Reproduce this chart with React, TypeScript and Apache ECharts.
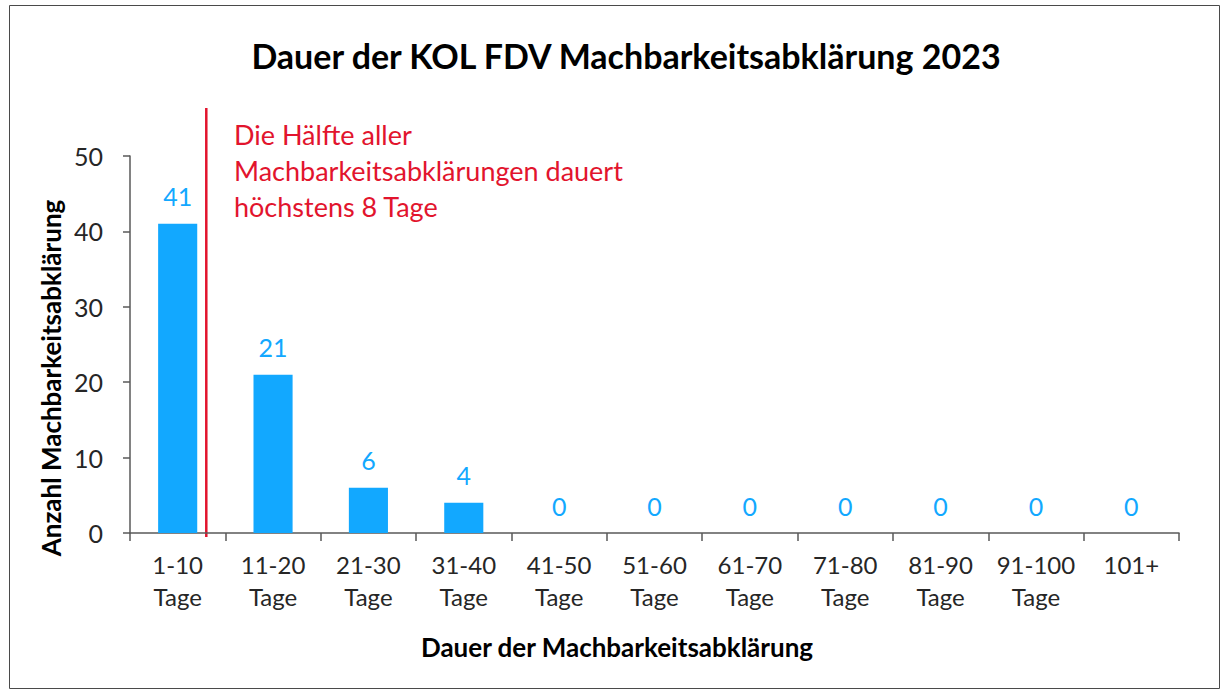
import React, { useEffect, useRef } from "react";
import * as echarts from "echarts";

const categories = [
  "1-10\nTage", "11-20\nTage", "21-30\nTage", "31-40\nTage", "41-50\nTage",
  "51-60\nTage", "61-70\nTage", "71-80\nTage", "81-90\nTage", "91-100\nTage", "101+",
];
const counts = [41, 21, 6, 4, 0, 0, 0, 0, 0, 0, 0];
const titleText = "Dauer der KOL FDV Machbarkeitsabklärung 2023";
const xAxisName = "Dauer der Machbarkeitsabklärung";
const yAxisName = "Anzahl Machbarkeitsabklärung";
const annotationLines = ["Die Hälfte aller", "Machbarkeitsabklärungen dauert", "höchstens 8 Tage"];
const medianDays = 8; // within the 1-10 bin

const FONT = "Lato, 'Open Sans', sans-serif";
const BLUE = "#12A8FF";
const RED = "#E2142D";
const TXT = "#262626";
const AXIS = "#595959";

export default function App() {
  const ref = useRef<HTMLDivElement>(null);
  useEffect(() => {
    if (!ref.current) return;
    const chart = echarts.init(ref.current, null, { renderer: "svg" });
    chart.setOption({
      animation: false,
      backgroundColor: "#ffffff",
      textStyle: { fontFamily: FONT },
      title: {
        text: titleText,
        left: 621,
        top: 33,
        textAlign: "center",
        textStyle: { fontFamily: FONT, fontSize: 34, fontWeight: "bold", color: "#000" },
      },
      grid: { left: 130, right: 42, top: 156, bottom: 157, containLabel: false },
      xAxis: {
        type: "category",
        data: categories,
        boundaryGap: true,
        axisLine: { show: true, lineStyle: { color: AXIS, width: 1.5 } },
        axisTick: { show: true, length: 8, alignWithLabel: false, lineStyle: { color: AXIS, width: 1.5 } },
        axisLabel: { color: TXT, fontSize: 24, lineHeight: 32, margin: 15, interval: 0, fontFamily: FONT },
        splitLine: { show: false },
      },
      yAxis: {
        type: "value",
        min: 0,
        max: 50,
        interval: 10,
        axisLine: { show: true, lineStyle: { color: AXIS, width: 1.5 } },
        axisTick: { show: true, length: 7, lineStyle: { color: AXIS, width: 1.5 } },
        axisLabel: { color: TXT, fontSize: 25, margin: 27, fontFamily: FONT },
        splitLine: { show: false },
      },
      series: [
        {
          type: "bar",
          data: counts,
          barWidth: "41%",
          itemStyle: { color: BLUE },
          label: {
            show: true,
            position: "top",
            distance: 15,
            color: BLUE,
            fontSize: 25,
            fontFamily: FONT,
          },
        },
      ],
    });

    const p0 = chart.convertToPixel({ xAxisIndex: 0 }, 0) as number;
    const p1 = chart.convertToPixel({ xAxisIndex: 0 }, 1) as number;
    const band = p1 - p0;
    const lineX = p0 - band / 2 + band * (medianDays / 10);
    const yZero = chart.convertToPixel({ yAxisIndex: 0 }, 0) as number;

    chart.setOption({
      graphic: [
        {
          type: "rect",
          shape: { x: 9.5, y: 5.5, width: 1210, height: 683 },
          style: { fill: "none", stroke: "#4a4a4a", lineWidth: 1 },
          silent: true,
        },
        {
          type: "line",
          shape: { x1: lineX, y1: 108, x2: lineX, y2: yZero + 4 },
          style: { stroke: RED, lineWidth: 2.5 },
        },
        {
          type: "text",
          x: 234,
          y: 116,
          style: {
            text: annotationLines.join("\n"),
            fill: RED,
            fontSize: 27,
            lineHeight: 36,
            fontFamily: FONT,
            verticalAlign: "top",
          },
        },
        {
          type: "text",
          x: 51,
          y: 378,
          rotation: Math.PI / 2,
          style: {
            text: yAxisName,
            fill: "#000",
            fontSize: 26,
            fontWeight: "bold",
            fontFamily: FONT,
            align: "center",
            verticalAlign: "middle",
          },
        },
        {
          type: "text",
          x: 617,
          y: 647,
          style: {
            text: xAxisName,
            fill: "#000",
            fontSize: 26,
            fontWeight: "bold",
            fontFamily: FONT,
            align: "center",
            verticalAlign: "middle",
          },
        },
      ],
    });
    return () => chart.dispose();
  }, []);
  return (
    <div
      ref={ref}
      style={{ position: "fixed", left: 0, top: 0, width: 1221, height: 690, background: "#fff" }}
    />
  );
}
